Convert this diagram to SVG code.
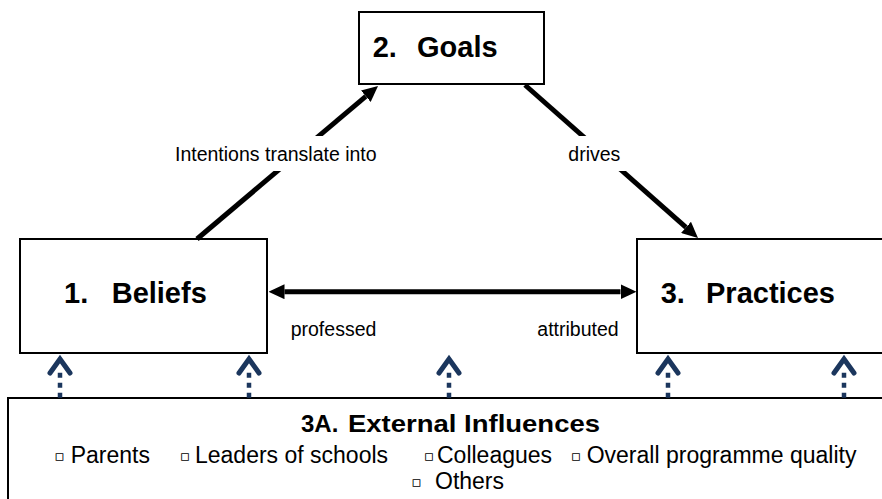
<svg xmlns="http://www.w3.org/2000/svg" width="882" height="499" viewBox="0 0 882 499">
<defs>
<style>
.box{fill:#fff;stroke:#000;stroke-width:2}
.title{font-family:"Liberation Sans",Arial,sans-serif;font-weight:bold;font-size:29px;fill:#000}
.lbl{font-family:"Liberation Sans",Arial,sans-serif;font-size:19.5px;fill:#000}
.item{font-family:"Liberation Sans",Arial,sans-serif;font-size:23px;fill:#000}
.bul{font-family:"DejaVu Sans","Liberation Sans",sans-serif;font-size:15px;fill:#000}
.head{font-family:"Liberation Sans",Arial,sans-serif;font-weight:bold;font-size:24px;fill:#000}
.conn{stroke:#000;stroke-width:5;fill:none}
.gap{fill:#fff;stroke:none}
.shaft{stroke:#1b365d;stroke-width:4.5;stroke-dasharray:5 5;fill:none}
.chev{stroke:#1b365d;stroke-width:5;fill:none;stroke-linecap:round;stroke-linejoin:miter}
</style>
<marker id="ah" markerUnits="userSpaceOnUse" markerWidth="16" markerHeight="15" refX="0" refY="7.5" orient="auto-start-reverse" viewBox="0 0 16 15">
<path d="M0,0 L16,7.5 L0,15 z" fill="#000"/>
</marker>
<g id="up">
<line class="shaft" x1="0" y1="372.7" x2="0" y2="398"/>
<polyline class="chev" points="-10,373 0,359 10,373"/>
</g>
</defs>

<g id="goals">
<rect class="box" x="359" y="12" width="185" height="72"/>
<text class="title" y="57.3"><tspan x="372.7">2.</tspan><tspan x="417">Goals</tspan></text>
</g>

<g id="beliefs">
<rect class="box" x="20" y="239" width="247" height="114"/>
<text class="title" y="303.3"><tspan x="64">1.</tspan><tspan x="111.7">Beliefs</tspan></text>
</g>

<g id="practices">
<rect class="box" x="637" y="239" width="270" height="114"/>
<text class="title" y="303.3"><tspan x="660.7">3.</tspan><tspan x="706">Practices</tspan></text>
</g>

<g id="influences">
<rect class="box" x="8" y="398" width="900" height="120"/>
<text class="head" y="432.3"><tspan x="301">3A.</tspan><tspan x="348" textLength="252" lengthAdjust="spacingAndGlyphs">External Influences</tspan></text>
<text class="bul" y="461"><tspan x="54.5">▫</tspan><tspan x="180">▫</tspan><tspan x="424">▫</tspan><tspan x="571">▫</tspan></text>
<text class="bul" y="487"><tspan x="411.5">▫</tspan></text>
<text class="item" y="463.3"><tspan x="70.7">Parents</tspan><tspan x="195">Leaders of schools</tspan><tspan x="437">Colleagues</tspan><tspan x="586.7">Overall programme quality</tspan></text>
<text class="item" x="435" y="489.3">Others</text>
</g>

<g id="connectors">
<line class="conn" x1="197" y1="239" x2="365.8" y2="96.3" marker-end="url(#ah)"/>
<line class="conn" x1="525" y1="85" x2="686" y2="227.4" marker-end="url(#ah)"/>
<line class="conn" x1="284.5" y1="291.7" x2="620.5" y2="291.7" marker-start="url(#ah)" marker-end="url(#ah)"/>
<rect class="gap" x="172" y="136" width="212" height="35"/>
<rect class="gap" x="560" y="136" width="68" height="35"/>
<text class="lbl" x="175" y="160.7">Intentions translate into</text>
<text class="lbl" x="568.3" y="161.3">drives</text>
<text class="lbl" x="290.7" y="335.5">professed</text>
<text class="lbl" x="537.3" y="335.5">attributed</text>
<use href="#up" x="60" y="0"/>
<use href="#up" x="249" y="0"/>
<use href="#up" x="449" y="0"/>
<use href="#up" x="668" y="0"/>
<use href="#up" x="844" y="0"/>
</g>
</svg>
